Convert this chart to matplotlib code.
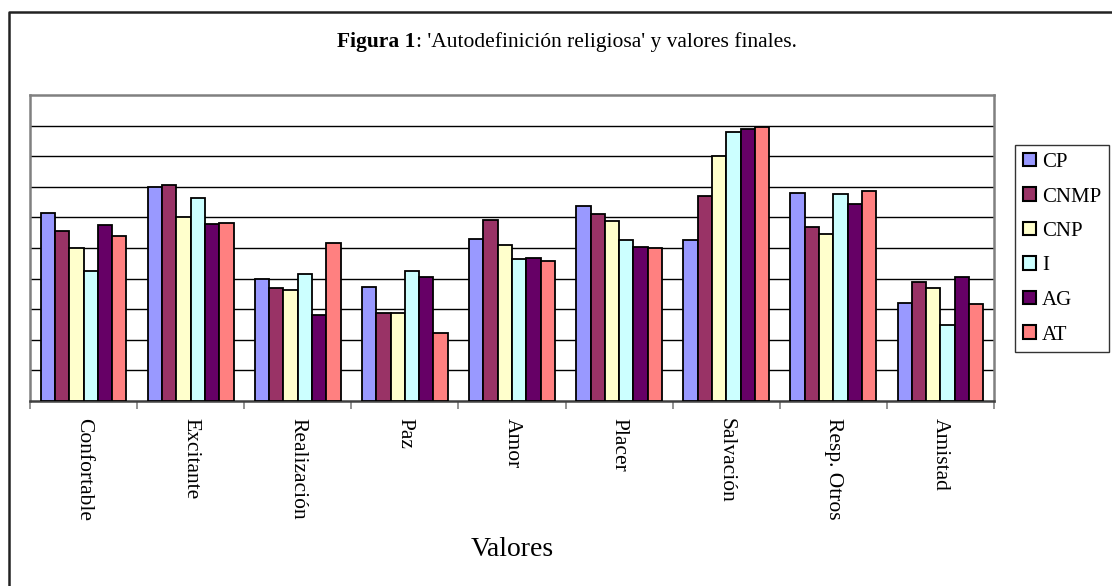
import matplotlib
matplotlib.use("Agg")
import matplotlib.pyplot as plt
from matplotlib.patches import Patch
from matplotlib.lines import Line2D
import numpy as np

categories = ["Confortable", "Excitante", "Realización", "Paz", "Amor",
              "Placer", "Salvación", "Resp. Otros", "Amistad"]
series_names = ["CP", "CNMP", "CNP", "I", "AG", "AT"]
CP   = [6.14, 6.99, 3.99, 3.73, 5.29, 6.38, 5.25, 6.79, 3.20]
CNMP = [5.56, 7.06, 3.68, 2.86, 5.90, 6.10, 6.71, 5.69, 3.88]
CNP  = [5.01, 6.01, 3.64, 2.88, 5.10, 5.89, 8.00, 5.47, 3.69]
I    = [4.25, 6.64, 4.14, 4.25, 4.65, 5.26, 8.80, 6.76, 2.48]
AG   = [5.75, 5.78, 2.81, 4.05, 4.66, 5.04, 8.89, 6.44, 4.05]
AT   = [5.39, 5.83, 5.16, 2.21, 4.58, 4.99, 8.94, 6.85, 3.16]
series = [CP, CNMP, CNP, I, AG, AT]
colors = ["#9999FF", "#993366", "#FFFFCC", "#CCFFFF", "#660066", "#FF8080"]

W, H = 1112, 586
fig = plt.figure(figsize=(W / 100, H / 100), dpi=100)
serif = "Liberation Serif"

ax = fig.add_axes([30 / W, 1 - 401 / H, (994 - 30) / W, (401 - 95) / H])
n = len(series)
bw = 0.8 / n
x = np.arange(len(categories))
for j, (vals, c, name) in enumerate(zip(series, colors, series_names)):
    ax.bar(x + (j - (n - 1) / 2) * bw, vals, width=bw, color=c,
           edgecolor="black", linewidth=1.3, label=name, zorder=3)

ax.set_xlim(-0.5, len(categories) - 0.5)
ax.set_ylim(0, 10)
ax.set_yticks(np.arange(1, 10))
ax.yaxis.grid(True, color="black", linewidth=1.0, zorder=0)
ax.tick_params(axis="y", left=False, labelleft=False)
ax.set_xticks(x)
ax.set_xticklabels(categories, rotation=270, fontfamily=serif, fontsize=15.5,
                   va="top", ha="center")
ax.tick_params(axis="x", which="major", length=0, pad=12)
ax.set_xticks(np.arange(-0.5, len(categories), 1), minor=True)
ax.tick_params(axis="x", which="minor", length=6, color="#808080", width=1.2)
for s in ax.spines.values():
    s.set_color("#808080")
    s.set_linewidth(1.8)
ax.spines["bottom"].set_color("#404040")
ax.set_axisbelow(True)

ax.set_xlabel("Valores", fontfamily=serif, fontsize=20)
ax.xaxis.set_label_coords(512 / W, 1 - 549 / H, transform=fig.transFigure)
ax.xaxis.label.set_va("center")

handles = [Patch(facecolor=c, edgecolor="black", linewidth=1.5) for c in colors]
leg = fig.legend(handles, series_names, loc="upper left",
                 bbox_to_anchor=(1015 / W, 1 - 145 / H), borderaxespad=0,
                 prop={"family": serif, "size": 15}, frameon=True,
                 fancybox=False, edgecolor="black", handlelength=0.62,
                 handleheight=0.62, handletextpad=0.3, labelspacing=0.74,
                 borderpad=0.38)
leg.get_frame().set_linewidth(1.0)

# outer frame (left and top edges)
fig.add_artist(Line2D([9 / W, 9 / W, 1.0], [0.0, 1 - 12 / H, 1 - 12 / H],
                      transform=fig.transFigure, color="#222222", linewidth=1.8))

# title: bold part + normal part, centred as a whole
fig.canvas.draw()
r = fig.canvas.get_renderer()
t1 = fig.text(0, 1 - 42 / H, "Figura 1", fontfamily=serif, fontsize=15.5,
              fontweight="bold", va="center", ha="left")
t2 = fig.text(0, 1 - 42 / H, ": 'Autodefinición religiosa' y valores finales.",
              fontfamily=serif, fontsize=15.5, va="center", ha="left")
w1 = t1.get_window_extent(r).width
w2 = t2.get_window_extent(r).width
x0 = 567 - (w1 + w2) / 2
t1.set_x(x0 / W)
t2.set_x((x0 + w1) / W)

fig.savefig("out.png", dpi=100)
